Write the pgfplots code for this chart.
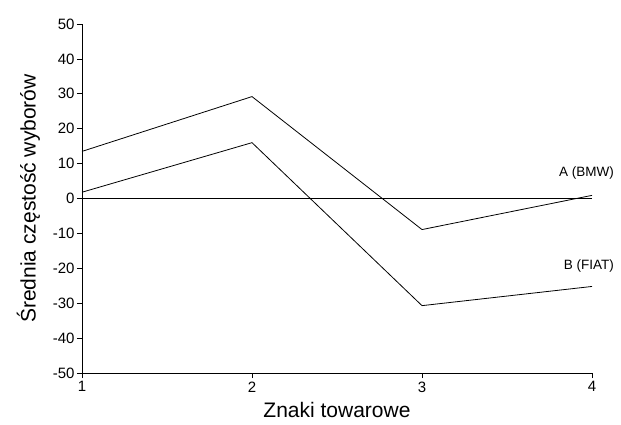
\documentclass[border=0pt]{standalone}
\usepackage{fontspec}
\setmainfont{Liberation Sans}
\usepackage{pgfplots}
\pgfplotsset{compat=1.18}
\begin{document}
\begin{tikzpicture}
\begin{axis}[
  name=ax, at={(0,0)}, anchor=south west,
  scale only axis, width=510pt, height=349pt,
  xmin=1, xmax=4, ymin=-50, ymax=50,
  xtick={1,2,3,4}, ytick={-50,-40,...,50},
  axis x line*=bottom, axis y line*=left,
  axis line style={black, line width=0.8pt, -},
  tick style={black, line width=0.8pt},
  tick align=outside, major tick length=5pt,
  every tick label/.style={font=\fontsize{15}{17}\selectfont},
  yticklabel style={xshift=1pt},
  /pgf/number format/assume math mode=true,
  xlabel={Znaki towarowe}, ylabel={Średnia częstość wyborów},
  label style={font=\fontsize{21}{24}\selectfont},
  xlabel style={at={(axis description cs:0.5,-0.106)}, anchor=center},
  ylabel style={at={(axis description cs:-0.105,0.5)}, anchor=center},
  clip=false,
]
\addplot[black, line width=0.8pt] coordinates {(1,13.5) (2,29.2) (3,-8.9) (4,0.9)};
\addplot[black, line width=0.8pt] coordinates {(1,1.8) (2,16.0) (3,-30.7) (4,-25.2)};
\addplot[black, line width=0.8pt] coordinates {(1,0) (4,0)};
\node[anchor=east, font=\fontsize{13.5}{16}\selectfont] at (axis cs:4.15,7.3) {A (BMW)};
\node[anchor=east, font=\fontsize{13.5}{16}\selectfont] at (axis cs:4.15,-19.2) {B (FIAT)};
\end{axis}
\path (-82pt,-51pt) rectangle (539pt,373pt);
\end{tikzpicture}
\end{document}
